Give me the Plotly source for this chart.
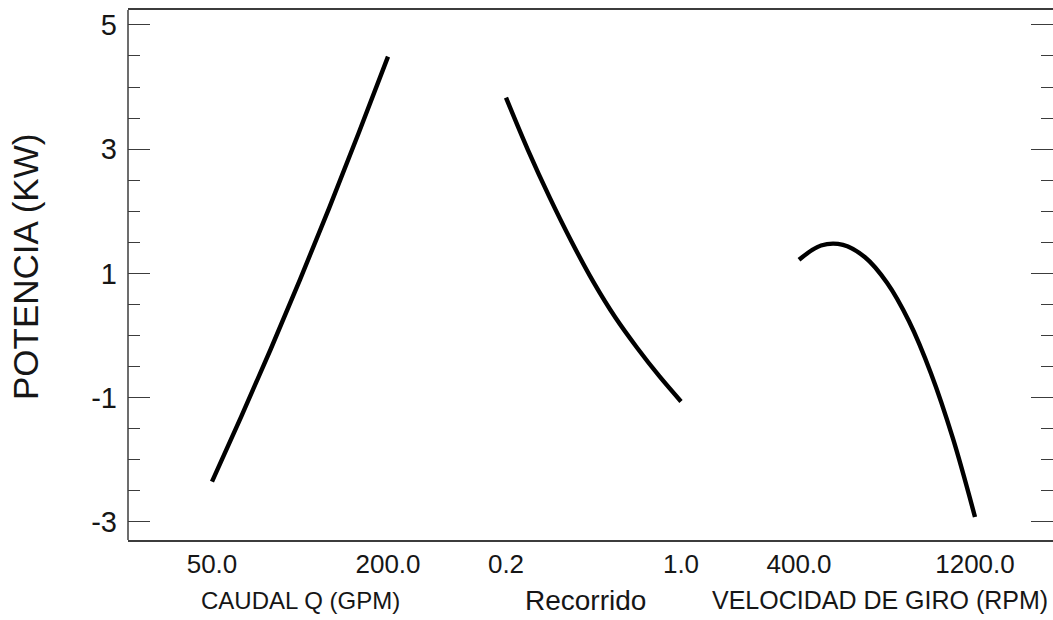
import plotly.graph_objects as go

# ---------------- data ----------------
caudal_x = [50, 75, 100, 125, 150, 175, 200]
caudal_y = [-2.35, -1.30, -0.22, 0.90, 2.06, 3.26, 4.49]

recorrido_x = [0.2, 0.3, 0.4, 0.5, 0.6, 0.7, 0.8, 0.9, 1.0]
recorrido_y = [3.83, 2.99, 2.22, 1.51, 0.86, 0.29, -0.20, -0.65, -1.06]

velocidad_x = [400, 500, 600, 700, 800, 900, 1000, 1100, 1200]
velocidad_y = [1.22, 1.45, 1.46, 1.26, 0.85, 0.23, -0.61, -1.66, -2.92]

caudal_ticks = ["50.0", "200.0"]
recorrido_ticks = ["0.2", "1.0"]
velocidad_ticks = ["400.0", "1200.0"]

y_ticks = [5, 3, 1, -1, -3]
y_title = "POTENCIA (KW)"
x_titles = ["CAUDAL Q (GPM)", "Recorrido", "VELOCIDAD DE GIRO (RPM)"]

# ---------------- layout constants ----------------
W, H = 1053, 620
ML, MR, MT, MB = 128, 0, 10, 80
PW = W - ML - MR
PH = H - MT - MB
FONT = "Liberation Sans, Arial, sans-serif"
TXT = "#161616"
FRAME = "#3c3c3c"

# pixel spans of each panel's data ends (left, right)
panel_px = [(212, 388), (506, 681), (799, 975)]
PAD = 5
# x-axis title centres (px) and sizes
title_cx = [300, 585, 880]
title_cy = 600
title_sizes = [24, 28, 25]


def dom_range(px, xs):
    l, r = px
    lo, hi = min(xs), max(xs)
    per = (hi - lo) / (r - l)
    d0 = (l - PAD - ML) / PW
    d1 = (r + PAD - ML) / PW
    return [d0, d1], [lo - PAD * per, hi + PAD * per]


def px_x(p):
    return (p - ML) / PW


def px_y(p):
    return (H - MB - p) / PH


series = [
    (caudal_x, caudal_y, caudal_ticks),
    (recorrido_x, recorrido_y, recorrido_ticks),
    (velocidad_x, velocidad_y, velocidad_ticks),
]

fig = go.Figure()
layout_axes = {}

# full-width frame axis that carries the y axis (draws top and bottom border)
fig.add_trace(go.Scatter(x=[], y=[], xaxis="x4", yaxis="y", showlegend=False))
layout_axes["xaxis4"] = dict(domain=[0, 1], range=[0, 1], anchor="y",
                             showline=True, linecolor=FRAME, linewidth=1.5, mirror=True,
                             showticklabels=False, ticks="", showgrid=False, zeroline=False,
                             automargin=False)

for i, (xs, ys, tt) in enumerate(series):
    n = "" if i == 0 else str(i + 1)
    fig.add_trace(go.Scatter(
        x=xs, y=ys, mode="lines", xaxis="x" + n, yaxis="y",
        line=dict(color="black", width=4.4, shape="spline", smoothing=1.0),
        showlegend=False, hoverinfo="skip", cliponaxis=False,
    ))
    dom, rng = dom_range(panel_px[i], xs)
    layout_axes["xaxis" + n] = dict(
        domain=dom, range=rng, anchor="y",
        showline=False, showgrid=False, zeroline=False,
        ticks="", tickvals=[min(xs), max(xs)], ticktext=tt,
        tickfont=dict(family=FONT, size=26, color=TXT),
        ticklabelstandoff=6, automargin=False,
    )

annotations = []
for i in range(3):
    annotations.append(dict(
        text=x_titles[i], xref="paper", yref="paper",
        x=px_x(title_cx[i]), y=px_y(title_cy), xanchor="center", yanchor="middle",
        showarrow=False, font=dict(family=FONT, size=title_sizes[i], color=TXT),
    ))
annotations.append(dict(
    text=y_title, xref="paper", yref="paper", textangle=-90,
    x=px_x(25), y=px_y(267), xanchor="center", yanchor="middle",
    showarrow=False, font=dict(family=FONT, size=35, color=TXT),
))

fig.update_layout(
    width=W, height=H,
    margin=dict(l=ML, r=MR, t=MT, b=MB, pad=0, autoexpand=False),
    paper_bgcolor="white", plot_bgcolor="rgba(0,0,0,0)",
    yaxis=dict(
        anchor="x4",
        range=[-3.29, 5.24], tickvals=y_ticks, ticktext=[str(v) for v in y_ticks],
        ticks="inside", ticklen=22, tickwidth=1.3, tickcolor=FRAME,
        minor=dict(dtick=0.5, tick0=1, ticks="inside", ticklen=12, tickwidth=1.3, tickcolor=FRAME),
        showline=False, mirror="ticks",
        showgrid=False, zeroline=False,
        tickfont=dict(family=FONT, size=29, color=TXT),
        ticklabelstandoff=10, automargin=False,
    ),
    annotations=annotations,
    shapes=[dict(type="line", xref="paper", yref="paper", x0=0, x1=0, y0=0, y1=1,
                 line=dict(color=FRAME, width=1.5))],
    **layout_axes,
)

fig.write_html("out.html")
